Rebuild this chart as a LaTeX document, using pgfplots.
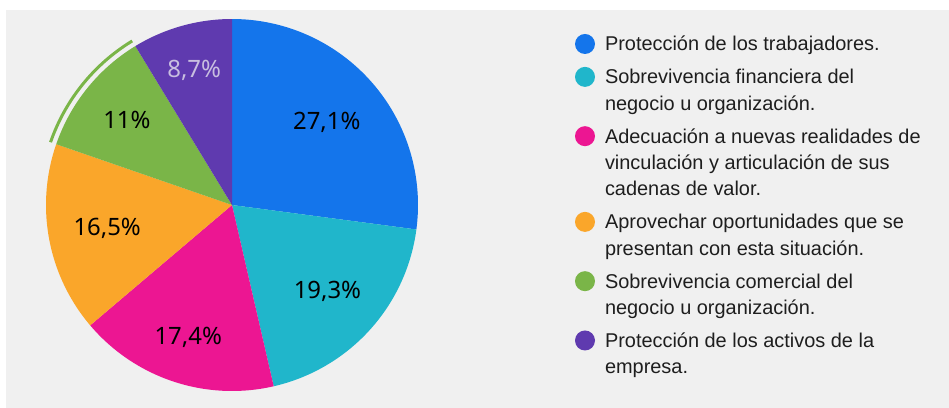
\documentclass[border=0pt]{standalone}
\usepackage{pgfplots}
\pgfplotsset{compat=1.18}
\usepackage{pgfplotstable}
\usepackage{fontspec}
\setmainfont{Liberation Sans}
\newfontfamily\labelfont{Noto Sans}
\definecolor{cBlue}{HTML}{1475EB}
\definecolor{cCyan}{HTML}{20B6CB}
\definecolor{cMagenta}{HTML}{EC1692}
\definecolor{cOrange}{HTML}{FAA62A}
\definecolor{cGreen}{HTML}{7AB548}
\definecolor{cPurple}{HTML}{5F3AAF}
\definecolor{cLav}{HTML}{C8BEE0}
\definecolor{bggray}{HTML}{F0F0F0}
\definecolor{txt}{HTML}{1E1E1E}
\newcommand{\plab}{\labelfont\fontsize{24}{28}\selectfont}
\newcommand{\legfont}{\fontsize{20}{26.5}\selectfont}
\newcommand{\lone}[1]{\vtop{\hbox{\strut #1}}}
\newcommand{\ltwo}[2]{\vtop{\hbox{\strut #1}\hbox{\strut #2}}}
\newcommand{\lthree}[3]{\vtop{\hbox{\strut #1}\hbox{\strut #2}\hbox{\strut #3}}}

\pgfplotstableread{
value color textcol labr
27.1 cBlue black 126
19.3 cCyan black 129
17.4 cMagenta black 139
16.5 cOrange black 127
11.0 cGreen black 135
8.7 cPurple cLav 140
}\piedata

\begin{document}
\begin{tikzpicture}
\fill[white] (0,0) rectangle (949bp,408bp);
\fill[bggray] (6bp,0) rectangle (949bp,398bp);
\begin{axis}[
  x=1bp, y=1bp,
  xmin=0, xmax=949, ymin=0, ymax=408,
  at={(0,0)}, anchor=south west,
  hide axis, clip=false,
  legend image code/.code={\fill[#1, draw=none] (10bp,7bp) circle (10bp);},
  legend style={
    at={(axis cs:575,375.5)}, anchor=north west,
    draw=none, fill=none, inner sep=0pt, outer sep=0pt,
    font=\legfont, text=txt,
    column sep=10bp, row sep=6.5bp,
    nodes={inner sep=0pt, anchor=base west, text depth=, text height=},
  },
  legend entries={
    {\lone{Protección de los trabajadores.}},
    {\ltwo{Sobrevivencia financiera del}{negocio u organización.}},
    {\lthree{Adecuación a nuevas realidades de}{vinculación y articulación de sus}{cadenas de valor.}},
    {\ltwo{Aprovechar oportunidades que se}{presentan con esta situación.}},
    {\ltwo{Sobrevivencia comercial del}{negocio u organización.}},
    {\ltwo{Protección de los activos de la}{empresa.}}
  },
]
\def\cum{0}
\pgfplotsforeachungrouped \i in {0,...,5}{%
  \pgfplotstablegetelem{\i}{value}\of\piedata \let\val\pgfplotsretval
  \pgfplotstablegetelem{\i}{color}\of\piedata \let\slcol\pgfplotsretval
  \pgfplotstablegetelem{\i}{textcol}\of\piedata \let\txcol\pgfplotsretval
  \pgfplotstablegetelem{\i}{labr}\of\piedata \let\lr\pgfplotsretval
  \pgfmathsetmacro\angA{90-3.6*\cum}
  \pgfmathsetmacro\angB{90-3.6*(\cum+\val)}
  \pgfmathsetmacro\angM{(\angA+\angB)/2}
  \pgfmathsetmacro\lx{232+\lr*cos(\angM)}
  \pgfmathsetmacro\ly{203+\lr*sin(\angM)}
  \ifnum\i=4 \xdef\greenA{\angA}\xdef\greenB{\angB}\fi
  \edef\doit{%
    \noexpand\addplot[draw=none, fill=\slcol, domain=\angB:\angA, samples=150]
      ({232+186*cos(x)},{203+186*sin(x)}) -- (axis cs:232,203) -- cycle;
    \noexpand\node[font=\noexpand\plab, text=\txcol] at (axis cs:\lx,\ly)
      {\noexpand\pgfmathprintnumber[use comma,fixed,precision=1,assume math mode=true]{\val}\noexpand\%};
  }%
  \doit
  \pgfmathsetmacro\cum{\cum+\val}%
}
\edef\doarc{\noexpand\addplot[draw=cGreen, line width=3bp, domain=\greenB:\greenA, samples=60, forget plot]
  ({232+192*cos(x)},{203+192*sin(x)});}
\doarc
\end{axis}
\end{tikzpicture}
\end{document}
